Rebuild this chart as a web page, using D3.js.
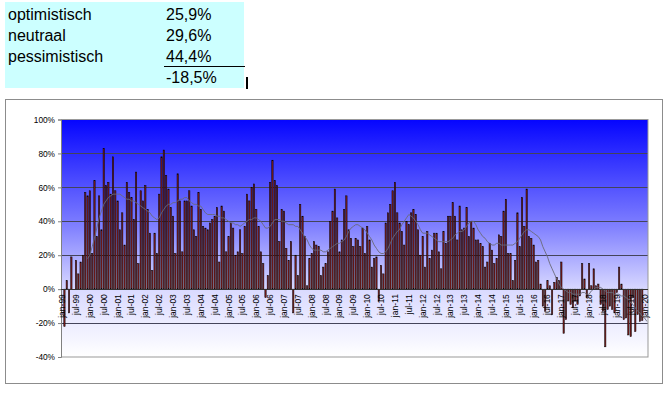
<!DOCTYPE html>
<html lang="nl">
<head>
  <meta charset="UTF-8">
  <title>Stemming optimistisch / pessimistisch</title>
  <script src="https://d3js.org/d3.v7.min.js"></script>
  <style>
    body { margin: 0; background: #fff; }
    svg { display: block; font-family: Arial, "Liberation Sans", sans-serif; }
  </style>
</head>
<body>
  <svg width="669" height="396"></svg>

  <script>
    // summary table (latest month)
    const summaryLabels = ["optimistisch", "neutraal", "pessimistisch"];
    const summaryValues = ["25,9%", "29,6%", "44,4%"];
    const netValue = "-18,5%";

    // monthly categories jan-99 .. feb-20
    const monthNames = ["jan", "feb", "mrt", "apr", "mei", "jun", "jul", "aug", "sep", "okt", "nov", "dec"];
    const yearNames = ["99", "00", "01", "02", "03", "04", "05", "06", "07", "08", "09", "10",
                       "11", "12", "13", "14", "15", "16", "17", "18", "19", "20"];
    const categories = yearNames.flatMap(yy => monthNames.map(m => m + "-" + yy)).slice(0, 254);

    const tickLabels = [
      "jan-99", "jul-99", "jan-00", "jul-00", "jan-01", "jul-01", "jan-02", "jul-02",
      "jan-03", "jul-03", "jan-04", "jul-04", "jan-05", "jul-05", "jan-06", "jul-06",
      "jan-07", "jul-07", "jan-08", "jul-08", "jan-09", "jul-09", "jan-10", "jul-10",
      "jan-11", "jul-11", "jan-12", "jul-12", "jan-13", "jul-13", "jan-14", "jul-14",
      "jan-15", "jul-15", "jan-16", "jul-16", "jan-17", "jul-17", "jan-18", "jul-18",
      "jan-19", "jul-19", "jan-20"
    ];

    // saldo optimistisch - pessimistisch per month (%)
    const saldo = [
      null, -22, 5, -14, 19, null, 17, 9, 16, 20, 57, 55,
      58, 21, 64, 31, 55, 35, 83, 61, 63, 56, 78, 58,
      52, 35, 45, 26, 63, 57, 54, 41, 69, 15, 58, 52,
      61, 47, 33, 11, 33, 21, 56, 78, 82, 67, 59, 48,
      43, 21, 68, 52, 22, 52, 52, 58, 49, 35, 31, 57,
      47, 37, 36, 35, 39, 41, 43, 48, 16, 49, 46, 22,
      31, 39, 36, 20, 22, 35, 21, 37, 56, 52, 60, 62,
      47, 37, 22, 15, -5, 8, 63, 76, 64, 61, 28, 47,
      46, 24, 17, 28, -14, 20, 8, 50, 43, 31, 2, 18,
      21, 28, 26, 25, 8, 13, 15, 22, 40, 46, 59, 42,
      22, 29, 47, 55, 35, 30, 25, 30, 29, 25, 36, 21,
      37, 29, 13, 18, 19, -7, 14, 9, 39, 45, 50, 58,
      63, 45, 39, 34, 26, 40, 38, 45, 47, 44, 35, 20,
      31, 13, 34, 18, 23, 33, 33, 22, 12, 34, 27, 43,
      43, 51, 43, 29, 49, 35, 36, 48, 31, 40, 36, 29,
      29, 27, 25, 13, 16, 27, 23, 15, 18, 32, 31, 46,
      53, 21, 21, 5, 17, 45, 25, 54, 37, 59, 31, 30,
      26, 16, 17, 3, -10, -13, 5, 2, -15, 4, 7, 5,
      16, -26, -18, -7, -9, -11, -7, -9, -4, 15, 6, -5,
      15, 2, 12, 2, 3, -9, -13, -34, -12, -10, -12, -14,
      -2, 13, 3, -18, -17, -27, -28, -5, -25, -15, -19, -18.5,
      null, null
    ];

    // 12-month average (thin grey line)
    const gemiddelde = [
      null, null, null, null, null, null, null, null, null, null, null, 18,
      20, 25, 30, 36, 42, 46, 50, 52, 54, 55, 56, 56,
      56, 56, 55, 54, 53, 53, 52, 52, 51, 50, 49, 48,
      47, 46, 45, 43, 42, 41, 42, 45, 47, 49, 50, 50,
      51, 51, 52, 53, 53, 54, 54, 52, 51, 50, 50, 49,
      49, 47, 45, 44, 44, 44, 44, 43, 43, 42, 42, 41,
      40, 39, 39, 38, 38, 37, 38, 39, 40, 41, 41, 42,
      42, 41, 40, 38, 36, 36, 37, 39, 41, 41, 41, 40,
      40, 39, 38, 38, 38, 37, 37, 35, 33, 31, 29, 26,
      24, 23, 23, 23, 23, 22, 22, 23, 24, 25, 26, 27,
      27, 28, 29, 31, 34, 36, 37, 38, 38, 37, 36, 35,
      33, 31, 29, 26, 24, 22, 21, 21, 22, 24, 27, 30,
      32, 34, 35, 38, 40, 42, 44, 43, 42, 40, 38, 35,
      33, 33, 33, 32, 31, 30, 29, 28, 28, 28, 28, 28,
      29, 30, 32, 33, 34, 34, 35, 37, 39, 40, 40, 38,
      35, 33, 31, 30, 28, 27, 26, 26, 27, 27, 26, 26,
      26, 26, 26, 26, 27, 28, 30, 32, 34, 35, 35, 34,
      33, 32, 31, 29, 25, 22, 19, 15, 12, 9, 6, 3,
      1, 0, -1, -2, -2, -3, -3, -3, -3, -2, -2, -3,
      -3, -1, 0, 1, 1, 1, 0, -1, -2, -2, -2, -3,
      -3, -3, -4, -4, -5, -6, -8, -9, -11, -13, -14, -16,
      -17, -19
    ];

    const yTicks = [100, 80, 60, 40, 20, 0, -20, -40];

    const svg = d3.select("svg");

    // ---- summary table ----
    const table = svg.append("g");
    table.append("rect")
      .attr("x", 5).attr("y", 2).attr("width", 239).attr("height", 86)
      .attr("fill", "#ccffff");

    const rowY = [20, 41, 61.5, 82.5];
    summaryLabels.forEach((lab, i) => {
      table.append("text").attr("x", 8).attr("y", rowY[i])
        .attr("font-size", 16).attr("fill", "#000").text(lab);
      table.append("text").attr("x", 166).attr("y", rowY[i])
        .attr("font-size", 16).attr("fill", "#000").text(summaryValues[i]);
    });
    table.append("line")
      .attr("x1", 164).attr("x2", 245).attr("y1", 66.5).attr("y2", 66.5)
      .attr("stroke", "#000").attr("stroke-width", 1);
    table.append("text").attr("x", 166).attr("y", rowY[3])
      .attr("font-size", 16).attr("fill", "#000").text(netValue);
    table.append("rect")
      .attr("x", 246).attr("y", 77).attr("width", 2).attr("height", 12)
      .attr("fill", "#000");

    // ---- chart frame ----
    svg.append("rect")
      .attr("x", 5.5).attr("y", 99.5).attr("width", 657).attr("height", 284)
      .attr("fill", "#fff").attr("stroke", "#8c8c8c");

    const plot = { left: 61, right: 648, top: 119.5, bottom: 357 };

    const x = d3.scaleBand()
      .domain(categories)
      .range([plot.left, plot.right])
      .paddingInner(0.42)
      .paddingOuter(0.2);

    const y = d3.scaleLinear()
      .domain([-40, 100])
      .range([plot.bottom, plot.top]);

    // plot background gradient
    const defs = svg.append("defs");
    const grad = defs.append("linearGradient")
      .attr("id", "bg").attr("x1", 0).attr("y1", 0).attr("x2", 0).attr("y2", 1);
    grad.append("stop").attr("offset", "0%").attr("stop-color", "#0505ff");
    grad.append("stop").attr("offset", "45%").attr("stop-color", "#8080ff");
    grad.append("stop").attr("offset", "72%").attr("stop-color", "#dadaff");
    grad.append("stop").attr("offset", "100%").attr("stop-color", "#ffffff");

    svg.append("rect")
      .attr("x", plot.left).attr("y", plot.top)
      .attr("width", plot.right - plot.left).attr("height", plot.bottom - plot.top)
      .attr("fill", "url(#bg)");

    // gridlines
    svg.append("g")
      .selectAll("line")
      .data(yTicks.filter(d => d > -40 && d < 100))
      .join("line")
      .attr("x1", plot.left).attr("x2", plot.right)
      .attr("y1", d => Math.round(y(d)) + 0.5).attr("y2", d => Math.round(y(d)) + 0.5)
      .attr("stroke", "#44445a").attr("stroke-width", 1);

    // bars
    const barData = categories.map((c, i) => ({ cat: c, v: saldo[i] })).filter(d => d.v != null);
    svg.append("g")
      .selectAll("rect")
      .data(barData)
      .join("rect")
      .attr("x", d => x(d.cat))
      .attr("y", d => Math.min(y(d.v), y(0)))
      .attr("width", x.bandwidth())
      .attr("height", d => Math.abs(y(d.v) - y(0)))
      .attr("fill", "#7e1c1c")
      .attr("stroke", "#000")
      .attr("stroke-width", 0.5);

    // average line
    const line = d3.line()
      .defined(d => d.v != null)
      .x(d => x(d.cat) + x.bandwidth() / 2)
      .y(d => y(d.v));
    svg.append("path")
      .datum(categories.map((c, i) => ({ cat: c, v: gemiddelde[i] })))
      .attr("fill", "none")
      .attr("stroke", "#6a6a78")
      .attr("stroke-width", 0.9)
      .attr("d", line);

    // plot border
    svg.append("rect")
      .attr("x", plot.left + 0.5).attr("y", plot.top)
      .attr("width", plot.right - plot.left - 0.5).attr("height", plot.bottom - plot.top)
      .attr("fill", "none").attr("stroke", "#999");

    // y axis
    const yAxis = d3.axisLeft(y)
      .tickValues(yTicks)
      .tickFormat(d => d + "%")
      .tickSize(3)
      .tickPadding(3);
    const gY = svg.append("g")
      .attr("transform", `translate(${plot.left},0)`)
      .call(yAxis);
    gY.select(".domain").attr("stroke", "#808080");
    gY.selectAll(".tick line").attr("stroke", "#808080");
    gY.selectAll("text").attr("font-size", 8.3).attr("font-family", "Arial, 'Liberation Sans', sans-serif").attr("fill", "#000");

    // category axis at 0%
    svg.append("line")
      .attr("x1", plot.left).attr("x2", plot.right)
      .attr("y1", Math.round(y(0)) + 0.5).attr("y2", Math.round(y(0)) + 0.5)
      .attr("stroke", "#333");

    svg.append("g")
      .selectAll("text")
      .data(tickLabels)
      .join("text")
      .attr("transform", d => `translate(${x(d) + x.bandwidth() / 2},${y(0) + 5}) rotate(-90)`)
      .attr("text-anchor", "end")
      .attr("dy", "0.35em")
      .attr("font-size", 8.5)
      .attr("fill", "#000")
      .text(d => d);
  </script>
</body>
</html>
